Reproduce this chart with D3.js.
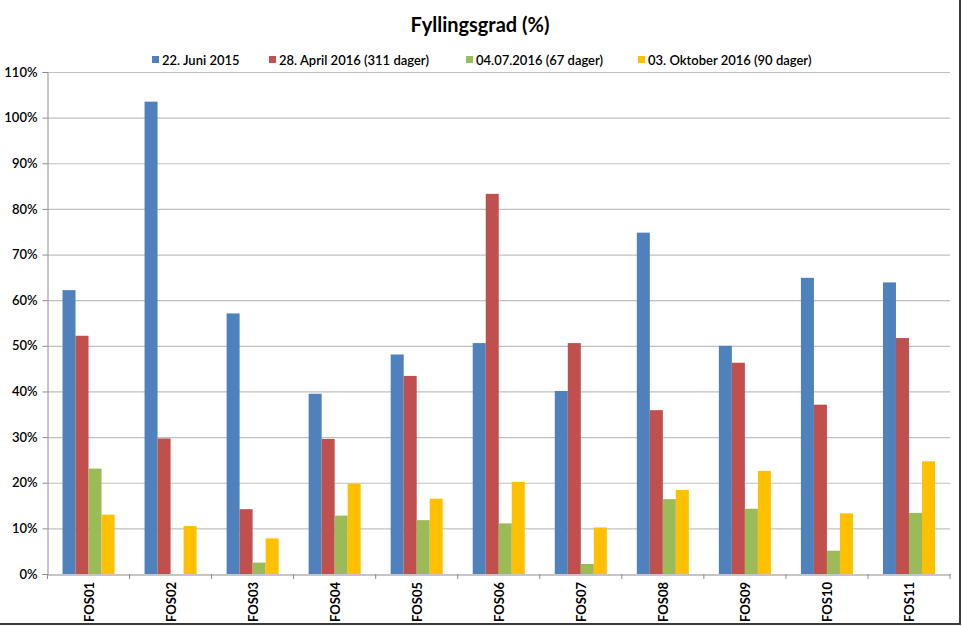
<!DOCTYPE html>
<html><head><meta charset="utf-8">
<script src="https://cdn.jsdelivr.net/npm/d3@7"></script>
<style>body{margin:0;background:#fff;} svg{display:block;} text{font-family:Lato,"Open Sans",sans-serif;}</style>
</head><body><svg id="c" width="962" height="627"></svg>
<script>
const categories = ["FOS01","FOS02","FOS03","FOS04","FOS05","FOS06","FOS07","FOS08","FOS09","FOS10","FOS11"];
const seriesNames = ["22. Juni 2015","28. April 2016 (311 dager)","04.07.2016 (67 dager)","03. Oktober 2016 (90 dager)"];
const juni2015 =   [62.2,103.5,57.1,39.5,48.1,50.6,40.1,74.8,50.0,64.9,63.9];
const april2016 =  [52.2,29.7,14.2,29.6,43.4,83.3,50.6,35.9,46.3,37.1,51.7];
const juli2016 =   [23.1,0,2.5,12.8,11.8,11.1,2.2,16.4,14.3,5.1,13.4];
const okt2016 =    [13.0,10.5,7.8,19.8,16.5,20.2,10.2,18.4,22.6,13.3,24.7];
const yTicks = [0,10,20,30,40,50,60,70,80,90,100,110];
const colors = ["#4f81bd","#c0504d","#9bbb59","#ffc000"];
const series = [juni2015, april2016, juli2016, okt2016];

const svg = d3.select("#c");
const m = {l:47.5, r:950, t:72, b:574};
const x = d3.scaleBand().domain(categories).range([m.l, m.r]).paddingInner(0).paddingOuter(0);
const inner = d3.scaleBand().domain(d3.range(4)).range([15, x.bandwidth()-15]);
const y = d3.scaleLinear().domain([0,110]).range([m.b, m.t]);

// gridlines
svg.append("g").selectAll("line").data(yTicks.filter(d=>d>0)).join("line")
  .attr("x1", m.l).attr("x2", m.r).attr("y1", d=>y(d)+0.5).attr("y2", d=>y(d)+0.5)
  .attr("stroke","#c0c0c0").attr("stroke-width",1.2);

// bars
series.forEach((vals, si) => {
  svg.append("g").selectAll("rect").data(vals).join("rect")
    .attr("x", (d,i)=> x(categories[i]) + inner(si))
    .attr("width", inner.bandwidth())
    .attr("y", d=>y(d))
    .attr("height", d=>y(0)-y(d))
    .attr("fill", colors[si]);
});

// y axis
const ya = svg.append("g").attr("transform",`translate(${m.l},0)`)
  .call(d3.axisLeft(y).tickValues(yTicks).tickFormat(d=>d+"%").tickSize(5).tickPadding(5));
ya.select(".domain").attr("stroke","#8c8c8c");
ya.selectAll(".tick line").attr("stroke","#8c8c8c");
ya.selectAll(".tick text").attr("font-size","13px").attr("fill","#000").attr("font-weight","600");

// x axis
const xa = svg.append("g").attr("transform",`translate(0,${m.b+0.5})`)
  .call(d3.axisBottom(x).tickSize(0).tickFormat(""));
xa.select(".domain").attr("stroke","#8c8c8c");
svg.append("g").selectAll("line").data(d3.range(categories.length+1)).join("line")
  .attr("x1", i=> m.l + i*x.step()).attr("x2", i=> m.l + i*x.step())
  .attr("y1", m.b).attr("y2", m.b+5).attr("stroke","#8c8c8c");
svg.append("g").selectAll("text").data(categories).join("text")
  .attr("transform", d=>`translate(${x(d)+x.bandwidth()/2+5},${m.b+8}) rotate(-90)`)
  .attr("text-anchor","end").attr("font-size","13px").attr("font-weight","700").attr("fill","#000")
  .text(d=>d);

// title
svg.append("text").attr("x",480).attr("y",32).attr("text-anchor","middle")
  .attr("font-size","20px").attr("font-weight","700").attr("fill","#000").text("Fyllingsgrad (%)");

// legend
const legX = [152, 269, 466, 638];
const lg = svg.append("g");
seriesNames.forEach((n,i)=>{
  lg.append("rect").attr("x",legX[i]).attr("y",56).attr("width",7).attr("height",7).attr("fill",colors[i]);
  lg.append("text").attr("x",legX[i]+10).attr("y",64.5).attr("font-size","13px").attr("fill","#000").attr("font-weight","600").text(n);
});

// frame (right & bottom)
svg.append("line").attr("x1",960).attr("x2",960).attr("y1",0).attr("y2",625).attr("stroke","#3a3a3a").attr("stroke-width",2);
svg.append("line").attr("x1",0).attr("x2",961).attr("y1",624).attr("y2",624).attr("stroke","#3a3a3a").attr("stroke-width",2);
</script></body></html>
